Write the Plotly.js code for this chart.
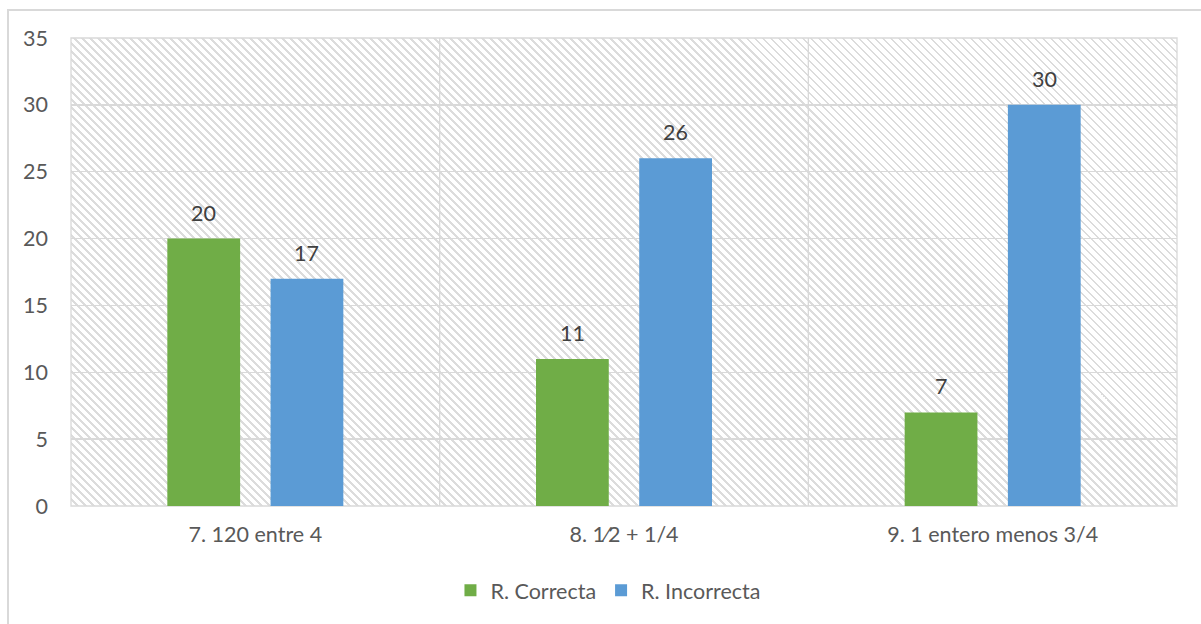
<!DOCTYPE html>
<html>
<head>
<meta charset="utf-8">
<script src="https://cdn.plot.ly/plotly-3.0.1.min.js"></script>
<style>
  html, body { margin: 0; padding: 0; background: #ffffff; }
  #wrap { position: relative; width: 1201px; height: 624px; overflow: hidden; background: #ffffff; }
  #frame { position: absolute; left: 7px; top: 9px; width: 1210px; height: 630px;
           border: 2px solid #d9d9d9; box-sizing: border-box; }
  #hatch { position: absolute;
           background-image: repeating-linear-gradient(45deg, #ffffff 0px, #ffffff 3.8px, #dcdcdc 3.8px, #dcdcdc 5.66px); }
  #chart { position: absolute; left: 0; top: 0; width: 1201px; height: 624px; }
  #chart text { font-feature-settings: "liga" 0, "calt" 0, "frac" 0; font-variant-ligatures: none; }
</style>
</head>
<body>
<div id="wrap">
  <div id="frame"></div>
  <div id="hatch"></div>
  <div id="chart"></div>
</div>
<script>
// Question categories and answer counts
const categories = ['7. 120 entre 4', '8. 1\u200C\u2044\u200C2 + 1/4', '9. 1 entero menos 3/4'];
const correctas = [20, 11, 7];
const incorrectas = [17, 26, 30];
const seriesNames = ['R. Correcta', 'R. Incorrecta'];
const yTicks = [0, 5, 10, 15, 20, 25, 30, 35];

const FONT = 'Lato, "Open Sans", sans-serif';
const FS = 21.5;
const BARGAP = 0.44;
const BARGROUPGAP = 0.295;
const margin = { l: 71, r: 24, t: 38, b: 118 };
const W = 1201, H = 624;

const plotW = W - margin.l - margin.r;
const catPx = plotW / categories.length;
const slotPx = catPx * (1 - BARGAP) / 2;

const traces = [
  { type: 'bar', name: seriesNames[0], x: categories, y: correctas,
    marker: { color: '#70ad47' }, hoverinfo: 'x+y' },
  { type: 'bar', name: seriesNames[1], x: categories, y: incorrectas,
    marker: { color: '#5b9bd5' }, hoverinfo: 'x+y' }
];

// Value labels above each bar, shifted onto its group slot
const annotations = [];
[correctas, incorrectas].forEach((vals, s) => {
  vals.forEach((v, i) => {
    annotations.push({
      x: categories[i], y: v, xref: 'x', yref: 'y',
      text: String(v), showarrow: false,
      xshift: (s === 0 ? -1 : 1) * slotPx / 2,
      yshift: 26, yanchor: 'middle',
      font: { family: FONT, size: FS, color: '#404040' }
    });
  });
});

// Category separators and plot frame
const shapes = [];
for (let k = 1; k < categories.length; k++) {
  shapes.push({ type: 'line', xref: 'paper', yref: 'paper',
    x0: k / categories.length, x1: k / categories.length, y0: 0, y1: 1,
    line: { color: '#d9d9d9', width: 1.3 }, layer: 'below' });
}
shapes.push({ type: 'rect', xref: 'paper', yref: 'paper', x0: 0, x1: 1, y0: 0, y1: 1,
  line: { color: '#d9d9d9', width: 1.3 }, layer: 'below' });

const layout = {
  width: W, height: H, margin: margin,
  paper_bgcolor: 'rgba(0,0,0,0)', plot_bgcolor: 'rgba(0,0,0,0)',
  barmode: 'group', bargap: BARGAP, bargroupgap: BARGROUPGAP,
  font: { family: FONT, size: FS, color: '#595959' },
  xaxis: { type: 'category', showgrid: false, zeroline: false, showline: false,
           ticks: '', ticklabelstandoff: 13, tickfont: { family: FONT, size: FS, color: '#595959' } },
  yaxis: { range: [0, 35], tickvals: yTicks, showgrid: true, gridcolor: '#d9d9d9', gridwidth: 1.3,
           zeroline: false, showline: false, ticks: '', ticklabelstandoff: 22,
           tickfont: { family: FONT, size: FS, color: '#595959' } },
  legend: { orientation: 'h', x: 0.4855, xanchor: 'center', y: -0.18, yanchor: 'middle',
            font: { family: FONT, size: FS, color: '#595959' }, itemwidth: 30, traceorder: 'normal' },
  annotations: annotations, shapes: shapes, showlegend: true
};

Plotly.newPlot('chart', traces, layout, { displayModeBar: false, staticPlot: true }).then(gd => {
  const s = gd._fullLayout._size;
  const h = document.getElementById('hatch');
  h.style.left = s.l + 'px';
  h.style.top = s.t + 'px';
  h.style.width = s.w + 'px';
  h.style.height = s.h + 'px';
});
</script>
</body>
</html>
